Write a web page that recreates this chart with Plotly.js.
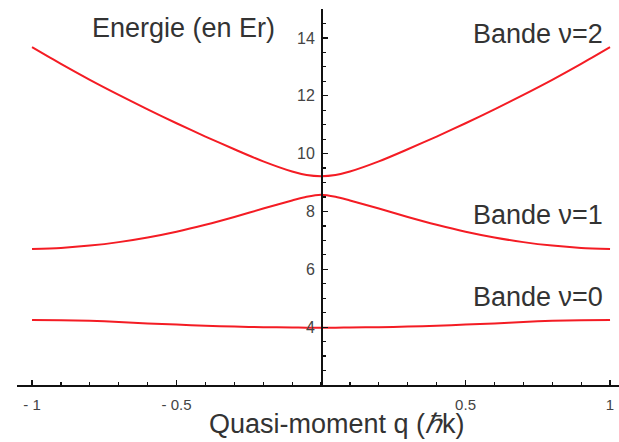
<!DOCTYPE html>
<html>
<head>
<meta charset="utf-8">
<script src="https://cdn.plot.ly/plotly-3.0.1.min.js"></script>
<style>html,body{margin:0;padding:0;background:#fff;}#chart{width:619px;height:442px;}</style>
</head>
<body>
<div id="chart"></div>
<script>
// Quasi-momentum q (in units of ħk)
const q = [-1, -0.9, -0.8, -0.7, -0.6, -0.5, -0.4, -0.3, -0.2, -0.1, -0.05, 0, 0.05, 0.1, 0.2, 0.3, 0.4, 0.5, 0.6, 0.7, 0.8, 0.9, 1];
// Energies (in Er)
const band0 = [4.25, 4.24, 4.22, 4.18, 4.13, 4.09, 4.05, 4.02, 4.00, 3.99, 3.98, 3.98, 3.98, 3.99, 4.00, 4.02, 4.05, 4.09, 4.13, 4.18, 4.22, 4.24, 4.25];
const band1 = [6.70, 6.74, 6.82, 6.94, 7.10, 7.30, 7.54, 7.81, 8.10, 8.38, 8.51, 8.58, 8.51, 8.38, 8.10, 7.81, 7.54, 7.30, 7.10, 6.94, 6.82, 6.74, 6.70];
const band2 = [13.68, 13.10, 12.55, 12.03, 11.53, 11.05, 10.59, 10.15, 9.73, 9.38, 9.26, 9.22, 9.26, 9.38, 9.73, 10.15, 10.59, 11.05, 11.53, 12.03, 12.55, 13.10, 13.68];
const bandNames = ["Bande \u03bd=0", "Bande \u03bd=1", "Bande \u03bd=2"];
const xTickVals = [-1, -0.5, 0.5, 1];
const xTickText = ["- 1", "- 0.5", "0.5", "1"];
const yTickVals = [4, 6, 8, 10, 12, 14];
const yTickText = ["4", "6", "8", "10", "12", "14"];

const red = "#f41c24";
const font = "Liberation Sans, Arial, Helvetica, sans-serif";
const txt = "#333";

const traces = [band0, band1, band2].map((b, i) => ({
  x: q, y: b, type: "scatter", mode: "lines", name: bandNames[i],
  line: {color: red, width: 2, shape: "spline", smoothing: 0.8},
  hoverinfo: "skip"
}));

const labelFont = {family: font, size: 27, color: txt};

const layout = {
  width: 619, height: 442,
  margin: {l: 17, r: 0, t: 9, b: 57},
  paper_bgcolor: "#fff", plot_bgcolor: "#fff",
  showlegend: false,
  font: {family: font, color: txt},
  xaxis: {
    range: [-1.052, 1.031],
    showgrid: false, zeroline: false,
    showline: true, linecolor: "#111", linewidth: 1.5,
    tickvals: xTickVals, ticktext: xTickText,
    ticks: "inside", ticklen: 5, tickwidth: 1.2, tickcolor: "#111",
    ticklabelstandoff: 5,
    tickfont: {family: font, size: 15, color: "#444"},
    minor: {dtick: 0.1, tick0: 0, ticks: "inside", ticklen: 3, tickwidth: 1.2, tickcolor: "#111"}
  },
  yaxis: {
    range: [2, 15],
    anchor: "free", position: 0.505,
    showgrid: false, zeroline: false,
    showline: true, linecolor: "#111", linewidth: 1.5,
    tickvals: yTickVals, ticktext: yTickText,
    ticks: "inside", ticklen: 5, tickwidth: 1.2, tickcolor: "#111",
    ticklabelstandoff: 3,
    tickfont: {family: font, size: 16, color: "#444"},
    minor: {dtick: 0.5, tick0: 0, ticks: "inside", ticklen: 3, tickwidth: 1.2, tickcolor: "#111"}
  },
  annotations: [
    {text: "Energie (en Er)", xref: "paper", yref: "paper", x: 0.277, y: 0.949,
     xanchor: "center", yanchor: "middle", showarrow: false, font: labelFont},
    {text: bandNames[2], xref: "paper", yref: "paper", x: 0.977, y: 0.934,
     xanchor: "right", yanchor: "middle", showarrow: false, font: labelFont},
    {text: bandNames[1], xref: "paper", yref: "paper", x: 0.977, y: 0.452,
     xanchor: "right", yanchor: "middle", showarrow: false, font: labelFont},
    {text: bandNames[0], xref: "paper", yref: "paper", x: 0.977, y: 0.234,
     xanchor: "right", yanchor: "middle", showarrow: false, font: labelFont},
    {text: "Quasi-moment q (<i>\u210f</i>k)", xref: "paper", yref: "paper", x: 0.532, y: -0.104,
     xanchor: "center", yanchor: "middle", showarrow: false, font: labelFont}
  ]
};

Plotly.newPlot("chart", traces, layout, {staticPlot: true, displayModeBar: false});
</script>
</body>
</html>
